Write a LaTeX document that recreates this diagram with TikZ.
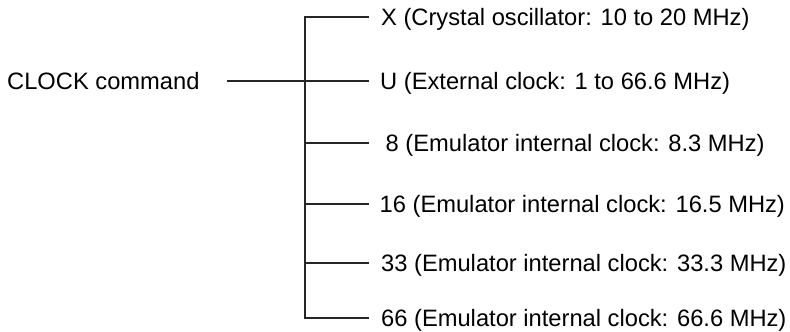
\documentclass[tikz,border=0pt]{standalone}
\usepackage{fontspec}
\setmainfont{Liberation Sans}
\begin{document}
\begin{tikzpicture}[x=1pt,y=-1pt,
  lbl/.style={anchor=base west,inner sep=0pt,font=\fontsize{23.7}{28}\selectfont},
  wire/.style={line width=1.1pt,black!85}]
\useasboundingbox (0,0) rectangle (790,332);
% text rows (baseline = centre + 8.5)
\node[lbl] (cmd) at (7,89.5) {CLOCK command};
\node[lbl] (tX) at (381,25.5) {X (Crystal oscillator: 10 to 20 MHz)};
\node[lbl] (tU) at (380,89.5) {U (External clock: 1 to 66.6 MHz)};
\node[lbl] (t8) at (385.5,151.5) {8 (Emulator internal clock: 8.3 MHz)};
\node[lbl] (t16) at (379.5,212.5) {16 (Emulator internal clock: 16.5 MHz)};
\node[lbl] (t33) at (381,271.5) {33 (Emulator internal clock: 33.3 MHz)};
\node[lbl] (t66) at (381,326.5) {66 (Emulator internal clock: 66.6 MHz)};
% bus coordinates
\coordinate (s) at (227,81);
\coordinate (bX) at (305,17);  \coordinate (eX) at (369,17);
\coordinate (bU) at (305,81);  \coordinate (eU) at (369,81);
\coordinate (b8) at (305,143); \coordinate (e8) at (369,143);
\coordinate (b16) at (305,204); \coordinate (e16) at (369,204);
\coordinate (b33) at (305,263); \coordinate (e33) at (369,263);
\coordinate (b66) at (305,318); \coordinate (e66) at (369,318);
\draw[wire] (s) -- (eU);
\draw[wire] (eX) -- (bX) -- (b66) -- (e66);
\draw[wire] (b8) -- (e8);
\draw[wire] (b16) -- (e16);
\draw[wire] (b33) -- (e33);
\end{tikzpicture}
\end{document}
